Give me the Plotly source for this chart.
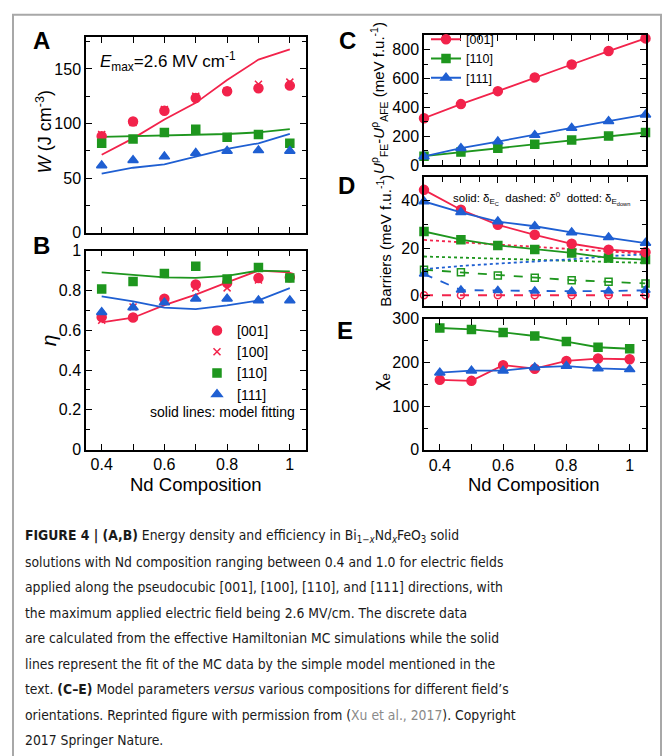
import plotly.graph_objects as go

FW, FH = 663, 756
def px(x): return x / FW
def py(y): return 1 - y / FH

# ---------------- data ----------------
nd = [0.4, 0.5, 0.6, 0.7, 0.8, 0.9, 1.0]

# (A) energy density W (J cm^-3)
W_001 = [88.5, 102, 111.8, 123.4, 129.7, 132.4, 134.8]
W_100 = [90, 101, 113, 125, 130, 136, 138]
W_110 = [82, 86, 91.8, 94.8, 87.6, 90, 82]
W_111 = [61.7, 66.5, 69.8, 73, 75, 75.5, 75]
Wfit_001 = [71.5, 86.5, 103.7, 119, 140, 158.6, 168]
Wfit_110 = [87.9, 88.7, 89.5, 90, 90.5, 92, 95]
Wfit_111 = [54.3, 59.6, 62.6, 70, 76.9, 82, 90.6]

# (B) efficiency eta
eta_001 = [0.666, 0.664, 0.759, 0.83, 0.838, 0.863, 0.866]
eta_100 = [0.65, 0.717, 0.755, 0.813, 0.813, 0.853, 0.87]
eta_110 = [0.807, 0.845, 0.886, 0.922, 0.858, 0.916, 0.863]
eta_111 = [0.691, 0.714, 0.739, 0.759, 0.759, 0.75, 0.75]
etafit_001 = [0.64, 0.663, 0.726, 0.779, 0.841, 0.9, 0.891]
etafit_110 = [0.891, 0.878, 0.866, 0.863, 0.873, 0.9, 0.896]
etafit_111 = [0.77, 0.745, 0.714, 0.706, 0.725, 0.75, 0.812]

# (C) U_FE - U_AFE (meV f.u.^-1)
dU_001 = [325, 423, 513, 608, 698, 791, 879]
dU_110 = [62, 90, 117, 145, 174, 201, 226]
dU_111 = [60, 117, 163, 208, 258, 305, 350]

# (D) barriers (meV f.u.^-1)
Dsol_001 = [44.6, 36.2, 29.8, 25.6, 21.8, 19.3, 18.2]
Dsol_110 = [27.0, 23.5, 21.1, 19.4, 17.9, 15.8, 15.1]
Dsol_111 = [39.7, 35.1, 31.2, 29.2, 26.6, 24.5, 22.1]
Ddash_001 = [0, 0, 0, 0, 0, 0, 0]
Ddash_110 = [10.8, 9.7, 8.4, 7.4, 6.4, 5.7, 5.0]
Ddash_111 = [9.0, 2.2, 2.0, 1.8, 1.7, 1.8, 2.1]
Ddot_001 = [23.4, 22.4, 21.6, 20.6, 19.6, 18.6, 17.6]
Ddot_110 = [16.4, 15.9, 15.5, 15.0, 14.6, 14.1, 13.7]
Ddot_111 = [11.0, 12.4, 13.4, 14.4, 15.2, 16.6, 17.3]

# (E) chi_e
chi_001 = [160.3, 158, 194, 185.8, 203.7, 209, 207.5]
chi_110 = [279, 275.7, 269, 260.7, 248, 235, 231.5]
chi_111 = [176.8, 181.3, 181.3, 188.8, 191.8, 186.5, 184.3]

RED = "#f2234b"
GREEN = "#1e961e"
BLUE = "#1f5fd2"
LW = 1.8
FONT = "Liberation Sans, Arial, Helvetica, sans-serif"

fig = go.Figure()

def line(x, y, color, ax, dash="solid", mode="lines", symbol=None, msize=8,
         name=None, legend=None, showlegend=False, rank=1000, width=LW, clip=True):
    fig.add_trace(go.Scatter(
        x=x, y=y, mode=mode, xaxis="x" + ax, yaxis="y" + ax,
        line=dict(color=color, width=width, dash=dash),
        marker=dict(symbol=symbol or "circle", size=msize, color=color,
                    line=dict(color=color, width=1.5)),
        name=name, showlegend=showlegend, legend=legend, legendrank=rank,
        cliponaxis=clip, hoverinfo="skip"))

# ----- A -----
line(nd, Wfit_001, RED, "")
line(nd, Wfit_110, GREEN, "")
line(nd, Wfit_111, BLUE, "")
line(nd, W_100, RED, "", mode="markers", symbol="x-thin", msize=7)
line(nd, W_001, RED, "", mode="markers", symbol="circle", msize=9)
line(nd, W_110, GREEN, "", mode="markers", symbol="square", msize=8)
line(nd, W_111, BLUE, "", mode="markers", symbol="triangle-up", msize=9)

# ----- B -----
line(nd, etafit_001, RED, "2")
line(nd, etafit_110, GREEN, "2")
line(nd, etafit_111, BLUE, "2")
line(nd, eta_100, RED, "2", mode="markers", symbol="x-thin", msize=7,
     name="[100]", legend="legend", showlegend=True, rank=2)
line(nd, eta_001, RED, "2", mode="markers", symbol="circle", msize=9,
     name="[001]", legend="legend", showlegend=True, rank=1)
line(nd, eta_110, GREEN, "2", mode="markers", symbol="square", msize=8,
     name="[110]", legend="legend", showlegend=True, rank=3)
line(nd, eta_111, BLUE, "2", mode="markers", symbol="triangle-up", msize=9,
     name="[111]", legend="legend", showlegend=True, rank=4)

# ----- C -----
line(nd, dU_001, RED, "3", mode="lines+markers", symbol="circle", msize=9,
     name="[001]", legend="legend2", showlegend=True, rank=1, clip=False)
line(nd, dU_110, GREEN, "3", mode="lines+markers", symbol="square", msize=8,
     name="[110]", legend="legend2", showlegend=True, rank=2, clip=False)
line(nd, dU_111, BLUE, "3", mode="lines+markers", symbol="triangle-up", msize=9,
     name="[111]", legend="legend2", showlegend=True, rank=3, clip=False)

# ----- D -----
line(nd, Ddot_001, RED, "4", dash="dot")
line(nd, Ddot_110, GREEN, "4", dash="dot")
line(nd, Ddot_111, BLUE, "4", dash="dot")
line(nd, Ddash_001, RED, "4", dash="dash", mode="lines+markers", symbol="circle-open", msize=7, clip=False)
line(nd, Ddash_110, GREEN, "4", dash="dash", mode="lines+markers", symbol="square-open", msize=7, clip=False)
line(nd, Ddash_111, BLUE, "4", dash="dash", mode="lines+markers", symbol="triangle-up", msize=8, clip=False)
line(nd, Dsol_110, GREEN, "4", mode="lines+markers", symbol="square", msize=8, clip=False)
line(nd, Dsol_001, RED, "4", mode="lines+markers", symbol="circle", msize=9, clip=False)
line(nd, Dsol_111, BLUE, "4", mode="lines+markers", symbol="triangle-up", msize=9, clip=False)

# ----- E -----
line(nd, chi_110, GREEN, "5", mode="lines+markers", symbol="square", msize=8)
line(nd, chi_001, RED, "5", mode="lines+markers", symbol="circle", msize=9)
line(nd, chi_111, BLUE, "5", mode="lines+markers", symbol="triangle-up", msize=9)

# ---------------- axes ----------------
def axis(dom, rng, tick0, dtick, mdtick, labels=True, anchor=None, mlen=4):
    return dict(domain=dom, range=rng, tick0=tick0, dtick=dtick, anchor=anchor,
                showline=True, linecolor="black", linewidth=1.5, mirror="allticks",
                ticks="inside", ticklen=6, tickwidth=1.4, tickcolor="black",
                showgrid=False, zeroline=False, showticklabels=labels,
                tickfont=dict(size=16, color="black", family=FONT),
                minor=dict(dtick=mdtick, tick0=tick0, ticks="inside", ticklen=mlen,
                           tickwidth=1.2, tickcolor="black", showgrid=False))

xl, xr = px(86), px(305.5)
xl2, xr2 = px(424), px(645.5)
lay = dict(
    xaxis=axis([xl, xr], [0.35, 1.05], 0.4, 0.1, 0.1, labels=False, anchor="y", mlen=6),
    yaxis=axis([py(230), py(30)], [0, 179], 0, 50, 25, anchor="x"),
    xaxis2=axis([xl, xr], [0.35, 1.05], 0.4, 0.2, 0.1, anchor="y2", mlen=6),
    yaxis2=axis([py(451.7), py(248.3)], [0, 1], 0, 0.2, 0.1, anchor="x2"),
    xaxis3=axis([xl2, xr2], [0.4, 1.0], 0.4, 0.1, 0.05, labels=False, anchor="y3", mlen=5),
    yaxis3=axis([py(160.7), py(28)], [0, 900], 0, 200, 100, anchor="x3"),
    xaxis4=axis([xl2, xr2], [0.4, 1.0], 0.4, 0.1, 0.05, labels=False, anchor="y4", mlen=5),
    yaxis4=axis([py(305), py(173)], [-4.6, 50], 0, 20, 10, anchor="x4"),
    xaxis5=axis([xl2, xr2], [0.35, 1.05], 0.4, 0.2, 0.1, anchor="y5", mlen=6),
    yaxis5=axis([py(452), py(318)], [0, 300], 0, 100, 50, anchor="x5"),
)

ann = []
def text(x, y, t, size=16, xanchor="center", yanchor="middle", angle=0, color="black", family=FONT):
    ann.append(dict(x=px(x), y=py(y), xref="paper", yref="paper", text=t, showarrow=False,
                    xanchor=xanchor, yanchor=yanchor, textangle=angle,
                    font=dict(size=size, color=color, family=family)))

# panel letters
for L, x, y in [("A", 41, 33), ("B", 41, 243), ("C", 347, 33), ("D", 346, 182), ("E", 345, 330)]:
    text(x, y, "<b>%s</b>" % L, size=24)

# axis titles
text(44, 127, "<i>W</i> (J cm<sup>-3</sup>)", size=18, angle=-90)
text(48, 340, "<i>η</i>", size=21, angle=-90)
text(379, 92, "<i>U</i><sup>ρ</sup><sub>FE</sub>-<i>U</i><sup>ρ</sup><sub>AFE</sub> (meV f.u.<sup>-1</sup>)",
     size=15, angle=-90)
text(384, 238, "Barriers (meV f.u.<sup>-1</sup>)", size=15, angle=-90)
text(381, 382, "χ<sub>e</sub>", size=19, angle=-90)
text(196, 487, "Nd Composition", size=18.5)
text(534, 487, "Nd Composition", size=18.5)

# in-plot notes
text(98, 55, "<i>E</i><sub>max</sub>=2.6 MV cm<sup>-1</sup>", size=17, xanchor="left")
text(297, 413, "solid lines: model fitting", size=14, xanchor="right")
text(451, 195, "solid: δ<sub>E<sub>C</sub></sub>  dashed: δ<sup>0</sup>  dotted: δ<sub>E<sub>down</sub></sub>",
     size=11.5, xanchor="left")

# caption
CAP = "DejaVu Sans Condensed, DejaVu Sans, sans-serif"
cap_lines = [
    "<b>FIGURE 4 | (A,B)</b> Energy density and efficiency in Bi<sub>1−<i>x</i></sub>Nd<sub><i>x</i></sub>FeO<sub>3</sub> solid",
    "solutions with Nd composition ranging between 0.4 and 1.0 for electric fields",
    "applied along the pseudocubic [001], [100], [110], and [111] directions, with",
    "the maximum applied electric field being 2.6 MV/cm. The discrete data",
    "are calculated from the effective Hamiltonian MC simulations while the solid",
    "lines represent the fit of the MC data by the simple model mentioned in the",
    "text. <b>(C–E)</b> Model parameters <i>versus</i> various compositions for different field’s",
    "orientations. Reprinted figure with permission from (<span style='color:#8a8a8a'>Xu et al., 2017</span>). Copyright",
    "2017 Springer Nature.",
]
cap_y = [540, 566.5, 592, 618.5, 645, 671, 697, 723, 748.5]
for t, y in zip(cap_lines, cap_y):
    text(23, y, t, size=13.8, xanchor="left", family=CAP, color="#1a1a1a")

fig.update_layout(
    **lay,
    width=FW, height=FH, margin=dict(l=0, r=0, t=0, b=0),
    paper_bgcolor="white", plot_bgcolor="white",
    font=dict(family=FONT, color="black"),
    annotations=ann,
    legend=dict(x=px(197), y=py(314), xanchor="left", yanchor="top",
                font=dict(size=14, color="black", family=FONT),
                bgcolor="rgba(0,0,0,0)", borderwidth=0, tracegroupgap=0, itemwidth=30),
    legend2=dict(x=px(426), y=py(17), xanchor="left", yanchor="top",
                 font=dict(size=12.5, color="black", family=FONT),
                 bgcolor="rgba(0,0,0,0)", borderwidth=0, tracegroupgap=0, itemwidth=30),
    shapes=[dict(type="rect", xref="paper", yref="paper", x0=px(13), x1=px(661),
                 y0=-0.02, y1=py(7), line=dict(color="#a8a8a8", width=2))],
    showlegend=True,
)

fig.write_html("out.html")
